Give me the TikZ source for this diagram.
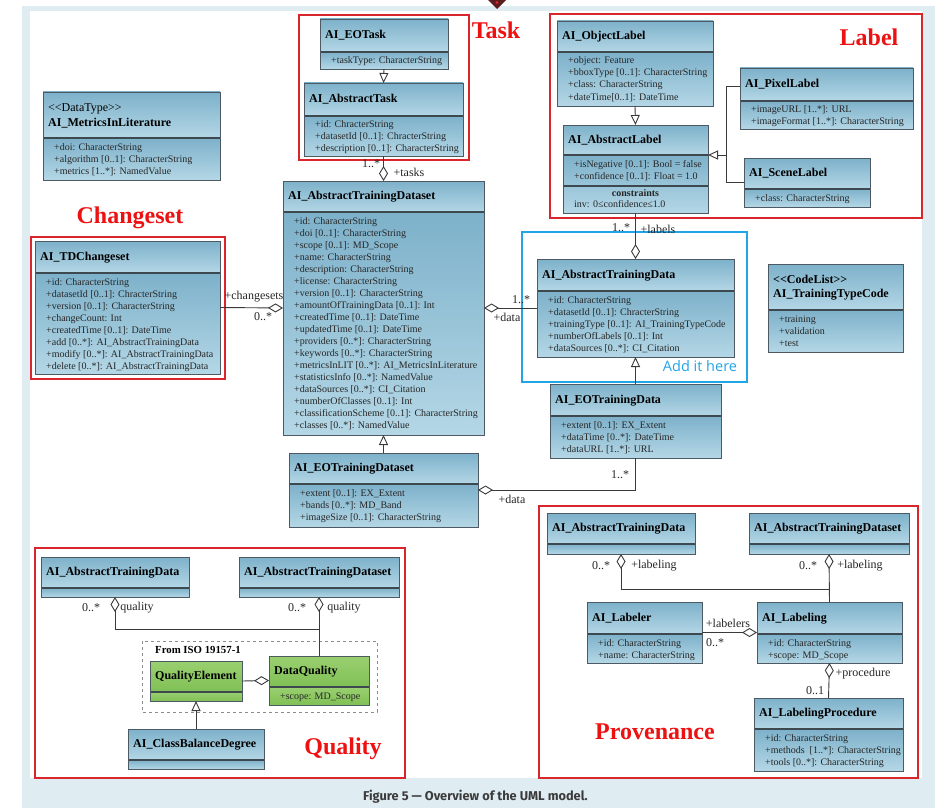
\documentclass[tikz,border=0pt]{standalone}
\usepackage{fontspec}
\setmainfont{Liberation Serif}
\newfontfamily\capfont{Fira Sans}
\newfontfamily\notefont{Open Sans}
\usetikzlibrary{arrows.meta}

\definecolor{pagebg}{HTML}{DFECF1}
\definecolor{bluetop}{HTML}{7DB1CA}
\definecolor{bluebot}{HTML}{B4D7E6}
\definecolor{greentop}{HTML}{9AD070}
\definecolor{greenbot}{HTML}{80C055}
\definecolor{boxline}{HTML}{4D5A63}
\definecolor{frame}{HTML}{D8262C}
\definecolor{tagred}{HTML}{EE1111}
\definecolor{notecyan}{HTML}{22A5E6}
\definecolor{wire}{HTML}{3A3A3A}
\definecolor{attrtext}{HTML}{262626}
\definecolor{captext}{HTML}{3B3B3B}
\definecolor{markdark}{HTML}{5A1C1C}

% class box: name, x1, y1, x2, y2, header divider y, palette
\newcommand{\umlbox}[7]{%
  \shade[top color=#7top, bottom color=#7bot] (#2,#3) rectangle (#4,#6);
  \shade[top color=#7top, bottom color=#7bot] (#2,#6) rectangle (#4,#5);
  \draw[divider] (#2,#6) -- (#4,#6);
  \node[boxframe, anchor=north west, minimum width={(#4-#2)*1pt},
        minimum height={(#5-#3)*1pt}] (#1) at (#2,#3) {};
}
\newcommand{\umltitle}[4]{\node[ttl, anchor=west] (#1) at (#2,#3) {#4};}
\newcommand{\umlattrs}[4]{\node[attr, anchor=base west] (#1) at (#2,#3)
  {\begin{tabular}[t]{@{}l@{}}#4\end{tabular}};}

\begin{document}
\begin{tikzpicture}[x=1pt, y=-1pt,
  boxframe/.style={draw=boxline, line width=0.8pt, inner sep=0pt, outer sep=0pt},
  divider/.style={draw=boxline!80!black, line width=1.1pt},
  ttl/.style={font=\fontsize{12}{14}\selectfont\bfseries, inner sep=0pt,
              text height=8.5pt, text depth=2.5pt},
  stereo/.style={font=\fontsize{12}{14}\selectfont, inner sep=0pt},
  attr/.style={font=\fontsize{10}{12}\selectfont, inner sep=0pt, text=attrtext},
  role/.style={font=\fontsize{12}{14}\selectfont, inner sep=0pt, text=attrtext},
  grouptag/.style={font=\fontsize{24}{26}\selectfont\bfseries, text=tagred, inner sep=0pt},
  groupframe/.style={draw=frame, line width=1.5pt},
  wireline/.style={draw=wire, line width=0.9pt},
  agg/.style={wireline, -{Diamond[open, length=15pt, width=9pt]}},
  gen/.style={wireline, -{Triangle[open, length=10pt, width=9pt]}}
]
\useasboundingbox (0,0) rectangle (935,808);

% page background
\fill[white] (0,0) rectangle (935,808);
\fill[pagebg] (22,6) rectangle (935,808);
\fill[white] (30,11) rectangle (922,778);
\fill[markdark] (488,0) -- (506,0) -- (497,9) -- cycle;
\fill[frame] (497,2.5) circle (1.6);

% group frames
\draw[groupframe] (299,15) rectangle (469,160);
\draw[groupframe] (31,237) rectangle (225,379);
\draw[groupframe] (550,14) rectangle (922,218);
\draw[groupframe] (35,548) rectangle (405,778);
\draw[groupframe] (539,506) rectangle (918,778);
\draw[draw=notecyan, line width=1.5pt] (522,232) rectangle (747,382);
\draw[draw=black!45, dashed, line width=0.7pt] (142,641) rectangle (377,712);

\node[grouptag] (tag-task) at (496,30) {Task};
\node[grouptag] (tag-change) at (130,218) {Changeset};
\node[grouptag] (tag-label) at (869,37) {Label};
\node[grouptag] (tag-quality) at (343,749) {Quality};
\node[grouptag] (tag-prov) at (655,732) {Provenance};
\node[font=\notefont\fontsize{14.5}{16}\selectfont, text=notecyan, inner sep=0pt]
  (note) at (700,366) {Add it here};
\node[font=\fontsize{10.8}{12}\selectfont\bfseries, inner sep=0pt, anchor=west]
  (iso) at (155,650) {From ISO 19157-1};

% ---------- data type ----------
\umlbox{metrics}{43}{92}{220}{180}{138}{blue}
\node[stereo, anchor=west] (metrics-st) at (48,109) {<{}<DataType>{}>};
\umltitle{metrics-t}{48}{123}{AI\_MetricsInLiterature}
\umlattrs{metrics-a}{54}{150}{+doi: CharacterString\\+algorithm [0..1]: CharacterString\\+metrics [1..*]: NamedValue}

% ---------- task ----------
\umlbox{eotask}{320}{19}{448}{69}{52}{blue}
\umltitle{eotask-t}{325}{35.5}{AI\_EOTask}
\umlattrs{eotask-a}{331}{64}{+taskType: CharacterString}

\umlbox{atask}{304}{83}{463}{156}{116}{blue}
\umltitle{atask-t}{309}{99.5}{AI\_AbstractTask}
\umlattrs{atask-a}{315}{128}{+id: ChracterString\\+datasetId [0..1]: ChracterString\\+description [0..1]: CharacterString}

% ---------- training dataset ----------
\umlbox{atd}{283}{181}{484}{435}{212}{blue}
\umltitle{atd-t}{288}{196.5}{AI\_AbstractTrainingDataset}
\umlattrs{atd-a}{294}{224}{+id: CharacterString\\+doi [0..1]: CharacterString\\+scope [0..1]: MD\_Scope\\+name: CharacterString\\+description: CharacterString\\+license: CharacterString\\+version [0..1]: CharacterString\\+amountOfTrainingData [0..1]: Int\\+createdTime [0..1]: DateTime\\+updatedTime [0..1]: DateTime\\+providers [0..*]: CharacterString\\+keywords [0..*]: CharacterString\\+metricsInLIT [0..*]: AI\_MetricsInLiterature\\+statisticsInfo [0..*]: NamedValue\\+dataSources [0..*]: CI\_Citation\\+numberOfClasses [0..1]: Int\\+classificationScheme [0..1]: CharacterString\\+classes [0..*]: NamedValue}

\umlbox{eotds}{289}{453}{478}{527}{484}{blue}
\umltitle{eotds-t}{294}{468.5}{AI\_EOTrainingDataset}
\umlattrs{eotds-a}{300}{496}{+extent [0..1]: EX\_Extent\\+bands [0..*]: MD\_Band\\+imageSize [0..1]: CharacterString}

% ---------- changeset ----------
\umlbox{tdc}{35}{241}{220}{374}{273}{blue}
\umltitle{tdc-t}{40}{257}{AI\_TDChangeset}
\umlattrs{tdc-a}{46}{285}{+id: CharacterString\\+datasetId [0..1]: ChracterString\\+version [0..1]: CharacterString\\+changeCount: Int\\+createdTime [0..1]: DateTime\\+add [0..*]: AI\_AbstractTrainingData\\+modify [0..*]: AI\_AbstractTrainingData\\+delete [0..*]: AI\_AbstractTrainingData}

% ---------- labels ----------
\umlbox{olabel}{557}{21}{713}{106}{52}{blue}
\umltitle{olabel-t}{562}{36.5}{AI\_ObjectLabel}
\umlattrs{olabel-a}{568}{64}{+object: Feature\\+bboxType [0..1]: CharacterString\\+class: CharacterString\\+dateTime[0..1]: DateTime}

\umlbox{alabel}{563}{125}{708}{213}{155}{blue}
\draw[divider] (563,186) -- (708,186);
\umltitle{alabel-t}{568}{140}{AI\_AbstractLabel}
\umlattrs{alabel-a}{574}{167}{+isNegative [0..1]: Bool = false\\+confidence [0..1]: Float = 1.0}
\node[attr, font=\fontsize{10}{12}\selectfont\bfseries] (alabel-c) at (635.5,193) {constraints};
\node[attr, anchor=west] (alabel-inv) at (574,204) {inv: 0≤confidence≤1.0};

\umlbox{pixel}{740}{68}{913}{129}{101}{blue}
\umltitle{pixel-t}{745}{84.5}{AI\_PixelLabel}
\umlattrs{pixel-a}{751}{113}{+imageURL [1..*]: URL\\+imageFormat [1..*]: CharacterString}

\umlbox{scene}{744}{158}{870}{207}{189}{blue}
\umltitle{scene-t}{749}{173.5}{AI\_SceneLabel}
\umlattrs{scene-a}{755}{201}{+class: CharacterString}

% ---------- training data ----------
\umlbox{atdata}{537}{259}{734}{357}{291}{blue}
\umltitle{atdata-t}{542}{275}{AI\_AbstractTrainingData}
\umlattrs{atdata-a}{548}{303}{+id: CharacterString\\+datasetId [0..1]: ChracterString\\+trainingType [0..1]: AI\_TrainingTypeCode\\+numberOfLabels [0..1]: Int\\+dataSources [0..*]: CI\_Citation}

\umlbox{eotd}{550}{384}{721}{458}{416}{blue}
\umltitle{eotd-t}{555}{400}{AI\_EOTrainingData}
\umlattrs{eotd-a}{561}{428}{+extent [0..1]: EX\_Extent\\+dataTime [0..*]: DateTime\\+dataURL [1..*]: URL}

\umlbox{ttc}{768}{264}{903}{352}{310}{blue}
\node[ttl, anchor=west] (ttc-st) at (773,280) {<{}<CodeList>{}>};
\umltitle{ttc-t}{773}{294}{AI\_TrainingTypeCode}
\umlattrs{ttc-a}{779}{322}{+training\\+validation\\+test}

% ---------- quality ----------
\umlbox{qatd}{41}{557}{189}{597}{588}{blue}
\umltitle{qatd-t}{46}{572.5}{AI\_AbstractTrainingData}
\umlbox{qatds}{239}{557}{399}{597}{588}{blue}
\umltitle{qatds-t}{244}{572.5}{AI\_AbstractTrainingDataset}
\umlbox{qe}{150}{661}{242}{701}{692}{green}
\umltitle{qe-t}{155}{676.5}{QualityElement}
\umlbox{dq}{269}{656}{369}{705}{687}{green}
\umltitle{dq-t}{274}{671.5}{DataQuality}
\umlattrs{dq-a}{280}{699}{+scope: MD\_Scope}
\umlbox{cbd}{128}{729}{264}{769}{760}{blue}
\umltitle{cbd-t}{133}{744.5}{AI\_ClassBalanceDegree}

% ---------- provenance ----------
\umlbox{patd}{547}{513}{695}{554}{544}{blue}
\umltitle{patd-t}{552}{528.5}{AI\_AbstractTrainingData}
\umlbox{patds}{749}{513}{909}{554}{544}{blue}
\umltitle{patds-t}{754}{528.5}{AI\_AbstractTrainingDataset}
\umlbox{labeler}{587}{602}{702}{663}{634}{blue}
\umltitle{labeler-t}{592}{618}{AI\_Labeler}
\umlattrs{labeler-a}{598}{646}{+id: CharacterString\\+name: CharacterString}
\umlbox{labeling}{757}{602}{902}{663}{634}{blue}
\umltitle{labeling-t}{762}{618}{AI\_Labeling}
\umlattrs{labeling-a}{768}{646}{+id: CharacterString\\+scope: MD\_Scope}
\umlbox{proc}{754}{698}{903}{771}{729}{blue}
\umltitle{proc-t}{759}{713.5}{AI\_LabelingProcedure}
\umlattrs{proc-a}{765}{741}{+id: CharacterString\\+methods~~[1..*]: CharacterString\\+tools [0..*]: CharacterString}

% ---------- connectors ----------
\draw[gen] (eotask.south) -- (atask.north);
\draw[agg] (atask.south) -- (atd.north);
\node[role] (m-tasks) at (371,164) {1..*};
\node[role] (r-tasks) at (409,172) {+tasks};

\draw[gen] (eotds.north) -- (atd.south);
\draw[agg] (tdc.east) -- (atd.west);
\node[role] (r-chg) at (254,297) {+changesets};
\node[role] (m-chg) at (263,317) {0..*};

\draw[agg] (atdata.west) -- (atd.east);
\node[role] (m-data) at (521,300) {1..*};
\node[role] (r-data) at (507,317) {+data};

\draw[gen] (olabel.south) -- (alabel.north);
\coordinate (pxj) at (726,86);
\coordinate (gj) at (726,155);
\draw[wireline] (pixel.west |- pxj) -- (pxj) |- (scene.west);
\draw[gen] (gj) -- (alabel.east |- gj);
\draw[agg] (alabel.south) -- (atdata.north);
\node[role] (m-labels) at (621,228) {1..*};
\node[role] (r-labels) at (658,229) {+labels};

\draw[gen] (eotd.north) -- (atdata.south);
\draw[agg] (eotd.south) |- (eotds.east);
\node[role] (m-eodata) at (620,475) {1..*};
\node[role] (r-eodata) at (512,499) {+data};

% quality associations
\coordinate (qj) at (0,629);
\draw[agg] (qj -| dq.north) -- (qj -| qatd.south) -- (qatd.south);
\draw[agg] (dq.north) -- (qatds.south);
\node[role] (m-q1) at (91,608) {0..*};
\node[role] (r-q1) at (137,608) {quality};
\node[role] (m-q2) at (297,608) {0..*};
\node[role] (r-q2) at (344,608) {quality};
\draw[agg] (qe.east) -- (dq.west);
\draw[gen] (cbd.north) -- (qe.south);

% provenance associations
\coordinate (pj) at (0,589);
\draw[agg] (pj -| labeling.north) -- (pj -| patd.south) -- (patd.south);
\draw[agg] (labeling.north) -- (patds.south);
\node[role] (m-p1) at (601,566) {0..*};
\node[role] (r-p1) at (654,566) {+labeling};
\node[role] (m-p2) at (808,566) {0..*};
\node[role] (r-p2) at (860,566) {+labeling};
\draw[agg] (labeler.east) -- (labeling.west);
\node[role] (r-lab) at (728,623) {+labelers};
\node[role] (m-lab) at (715,643) {0..*};
\draw[agg] (proc.north) -- (labeling.south);
\node[role] (r-proc) at (863,674) {+procedure};
\node[role] (m-proc) at (815,691) {0..1};

% caption
\node[font=\capfont\bfseries\fontsize{12.8}{15}\selectfont, text=captext, inner sep=0pt]
  (caption) at (475.5,797) {Figure 5 — Overview of the UML model.};
\end{tikzpicture}
\end{document}
